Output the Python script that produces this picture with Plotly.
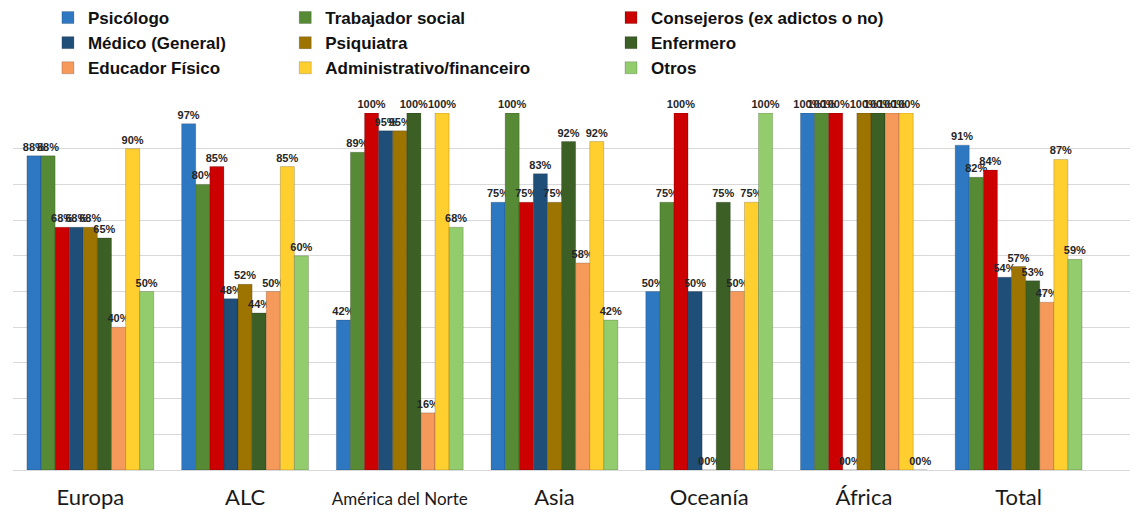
import plotly.graph_objects as go

regiones = ["Europa", "ALC", "América del Norte", "Asia", "Oceanía", "África", "Total"]
etiquetas_eje = ["Europa", "ALC", "<span style='font-size:17px'>América del Norte</span>",
                 "Asia", "Oceanía", "África", "Total"]

psicologo = [88, 97, 42, 75, 50, 100, 91]
trabajador_social = [88, 80, 89, 100, 75, 100, 82]
consejeros = [68, 85, 100, 75, 100, 100, 84]
medico = [68, 48, 95, 83, 50, 0, 54]
psiquiatra = [68, 52, 95, 75, 0, 100, 57]
enfermero = [65, 44, 100, 92, 75, 100, 53]
educador_fisico = [40, 50, 16, 58, 50, 100, 47]
administrativo = [90, 85, 100, 92, 75, 100, 87]
otros = [50, 60, 68, 42, 100, 0, 59]

series = [
    ("Psicólogo", psicologo, "#2E78C2", "legend"),
    ("Trabajador social", trabajador_social, "#568A35", "legend2"),
    ("Consejeros (ex adictos o no)", consejeros, "#CC0000", "legend3"),
    ("Médico (General)", medico, "#1F4E79", "legend"),
    ("Psiquiatra", psiquiatra, "#9E7400", "legend2"),
    ("Enfermero", enfermero, "#3B5F25", "legend3"),
    ("Educador Físico", educador_fisico, "#F69A5C", "legend"),
    ("Administrativo/financeiro", administrativo, "#FFCF30", "legend2"),
    ("Otros", otros, "#93CC6C", "legend3"),
]

fig = go.Figure()
for nombre, valores, color, leyenda in series:
    fig.add_trace(go.Bar(
        name=nombre,
        x=regiones,
        y=valores,
        marker=dict(color=color, line=dict(color="rgba(0,0,0,0.18)", width=1)),
        text=[f"{v:02d}%" for v in valores],
        textposition="outside",
        textfont=dict(family="Liberation Sans, Arial, sans-serif", size=11,
                      color="#262626", weight="bold"),
        constraintext="none",
        cliponaxis=False,
        legend=leyenda,
    ))

legend_style = dict(
    font=dict(family="Liberation Sans Narrow, Arial Narrow, Liberation Sans, sans-serif",
              size=17, color="#111111", weight="bold"),
    bgcolor="rgba(0,0,0,0)",
    xref="container", yref="container",
    xanchor="left", yanchor="top",
    itemwidth=30,
    tracegroupgap=0,
)

fig.update_layout(
    width=1141, height=516,
    margin=dict(l=13, r=11, t=113, b=46, autoexpand=False),
    paper_bgcolor="white", plot_bgcolor="white",
    barmode="group", bargap=0.18, bargroupgap=0,
    showlegend=True,
    legend=dict(x=0.042, y=1.0, **legend_style),
    legend2=dict(x=0.25, y=1.0, **legend_style),
    legend3=dict(x=0.5355, y=1.0, **legend_style),
    xaxis=dict(
        type="category",
        tickmode="array", tickvals=regiones, ticktext=etiquetas_eje,
        range=[-0.5, 6.72], tickangle=0, automargin=False,
        ticklabelstandoff=12,
        tickfont=dict(family="Lato, sans-serif", size=22, color="#1a1a1a"),
        showline=False, ticks="", showgrid=False,
    ),
    yaxis=dict(
        range=[0, 100], dtick=10, showticklabels=False, automargin=False,
        showgrid=True, gridcolor="#D9D9D9", gridwidth=1,
        zeroline=True, zerolinecolor="#D9D9D9", zerolinewidth=1,
    ),
)

fig.write_html("out.html")
